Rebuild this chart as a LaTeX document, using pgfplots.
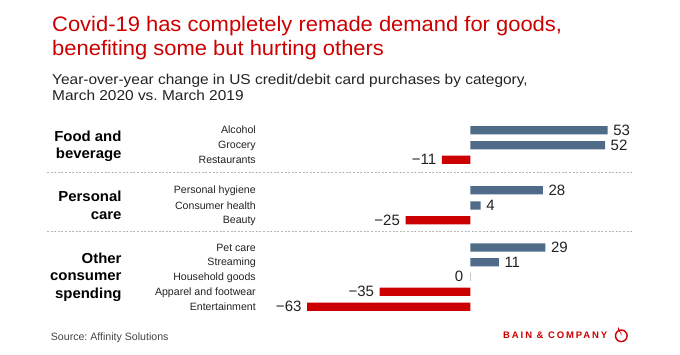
\documentclass[border=0pt]{standalone}
\usepackage{pgfplots}
\pgfplotsset{compat=1.18}
\usepackage{fontspec}
\setmainfont{Liberation Sans}
\frenchspacing
\definecolor{bainred}{HTML}{CC0000}
\definecolor{barblue}{HTML}{4F6B87}
\definecolor{txt}{HTML}{222222}
\definecolor{srcgray}{HTML}{444444}
\begin{document}
\begin{tikzpicture}
\useasboundingbox (0,0) rectangle (680bp,-355bp);
\begin{axis}[at={(0,0)}, anchor=north west, scale only axis,
  width=680bp, height=355bp, hide axis,
  xmin=-181.58, xmax=80.96, ymin=0, ymax=355, y dir=reverse, clip=false,
  point meta=explicit symbolic, nodes near coords,
  every node near coord/.append style={font=\fontsize{15bp}{15bp}\selectfont, text=txt, inner sep=0pt}]
% positive values
\addplot[xbar, bar width=8.3bp, bar shift=0pt, fill=barblue, draw=none,
  every node near coord/.append style={anchor=west, xshift=5.5bp}]
  coordinates {(53,130.2) [53] (52,145.2) [52] (28,190.2) [28] (4,205.5) [4] (29,247.5) [29] (11,262.2) [11]};
% negative values
\addplot[xbar, bar width=8.3bp, bar shift=0pt, fill=bainred, draw=none,
  every node near coord/.append style={anchor=east, xshift=-5.5bp}]
  coordinates {(-11,159.8) [−11] (-25,220.2) [−25] (-35,291.8) [−35] (-63,306.7) [−63]};
% zero value
\addplot[xbar, bar width=8.3bp, bar shift=0pt, fill=none, draw=gray!45, line width=1.2bp,
  every node near coord/.append style={anchor=east, xshift=-6.5bp}]
  coordinates {(0,276.7) [0]};
\end{axis}
\begin{scope}[x=1bp,y=-1bp]
% title
\tikzset{ttl/.style={anchor=base west, inner sep=0, text=bainred, font=\fontsize{21bp}{24bp}\selectfont\addfontfeature{FakeStretch=1.045}}}
\node[ttl] at (52,31) {Covid-19 has completely remade demand for goods,};
\node[ttl] at (52,55) {benefiting some but hurting others};
% subtitle
\tikzset{sub/.style={anchor=base west, inner sep=0, text=txt, font=\fontsize{14.3bp}{16bp}\selectfont\addfontfeature{FakeStretch=1.08}}}
\node[sub] at (52,84.5) {Year-over-year change in US credit/debit card purchases by category,};
\node[sub] at (52,100) {March 2020 vs. March 2019};
% group labels
\tikzset{grp/.style={anchor=base east, inner sep=0, text=black, font=\fontsize{14.5bp}{17bp}\selectfont\bfseries\addfontfeature{FakeStretch=1.03}}}
\node[grp] at (121.7,141) {Food and};
\node[grp] at (121.7,158) {beverage};
\node[grp] at (121.7,201.7) {Personal};
\node[grp] at (121.7,219.2) {care};
\node[grp] at (121.7,263.3) {Other};
\node[grp] at (121.7,280.8) {consumer};
\node[grp] at (121.7,298.3) {spending};
% category labels
\tikzset{cat/.style={anchor=base east, inner sep=0, text=txt, font=\fontsize{10.6bp}{12bp}\selectfont}}
\node[cat] at (256,133.7) {Alcohol};
\node[cat] at (256,148.7) {Grocery};
\node[cat] at (256,163.3) {Restaurants};
\node[cat] at (256,193.7) {Personal hygiene};
\node[cat] at (256,209.0) {Consumer health};
\node[cat] at (256,223.7) {Beauty};
\node[cat] at (256,251.0) {Pet care};
\node[cat] at (256,265.7) {Streaming};
\node[cat] at (256,280.2) {Household goods};
\node[cat] at (256,295.3) {Apparel and footwear};
\node[cat] at (256,310.2) {Entertainment};
% separators
\draw[gray!55, line width=0.6bp, dash pattern=on 2bp off 1.6bp] (47,172.7) -- (632,172.7);
\draw[gray!55, line width=0.6bp, dash pattern=on 2bp off 1.6bp] (47,231.7) -- (632,231.7);
% source
\node[anchor=base west, inner sep=0, text=srcgray, font=\fontsize{10.6bp}{12bp}\selectfont] at (50.7,340.5) {Source: Affinity Solutions};
% logo
\node[anchor=base west, inner sep=0, text=bainred, font=\fontsize{9.5bp}{10bp}\selectfont\bfseries\addfontfeature{LetterSpace=20}] at (503,338.8) {BAIN \& COMPANY};
\draw[bainred, line width=1.4bp] (621.3,335.8) circle (5.8);
\fill[bainred] (621.3,335.8) -- (621.3,332.4) arc (90:215:3.4) -- cycle;
\end{scope}
\end{tikzpicture}
\end{document}
